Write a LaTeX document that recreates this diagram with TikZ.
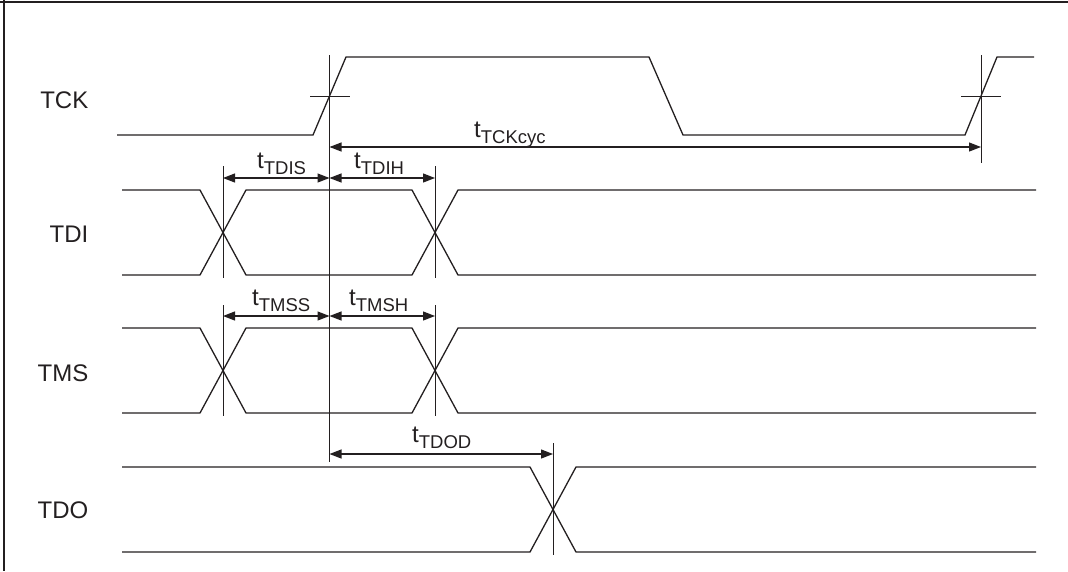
\documentclass[tikz,border=0pt]{standalone}
\usepackage{fontspec}
\setmainfont{Liberation Sans}
\usetikzlibrary{arrows.meta}
\definecolor{ink}{RGB}{35,31,32}
\newcommand{\tlab}[1]{{\fontsize{24}{26}\selectfont t}\raisebox{-6pt}{\fontsize{18.5}{20}\selectfont #1}}
\begin{document}
\begin{tikzpicture}[x=1pt,y=-1pt,
  sig/.style={draw=ink,line width=1.3pt,line join=miter},
  refline/.style={draw=ink,line width=0.9pt},
  dim/.style={draw=ink,line width=1.2pt,{Triangle[length=12pt,width=9pt]}-{Triangle[length=12pt,width=9pt]}},
  siglab/.style={anchor=base east,inner sep=0pt,text=ink,font=\fontsize{24}{26}\selectfont},
  tl/.style={anchor=base west,inner sep=0pt,text=ink}]
\useasboundingbox (0,0) rectangle (1068,571);
% frame (top and left)
\draw[ink,line width=2pt] (0,1.5) -- (1068,1.5);
\draw[ink,line width=2pt] (4,0) -- (4,571);

% signal names
\node[siglab] (nTCK) at (88.5,108) {TCK};
\node[siglab] (nTDI) at (88.5,242) {TDI};
\node[siglab] (nTMS) at (88.5,381) {TMS};
\node[siglab] (nTDO) at (88.5,518) {TDO};

% TCK
\draw[sig] (117,135) -- (313,135) -- (346,57) -- (649,57) -- (683,135) -- (965,135) -- (997,57) -- (1034,57);
\draw[refline] (310,96) -- (350,96);
\draw[refline] (961,96) -- (1001,96);
\coordinate (r1t) at (329.5,55);
\coordinate (r1b) at (329.5,462);
\coordinate (r2t) at (981,55);
\coordinate (r2b) at (981,163);
\draw[refline] (r1t) -- (r1b);
\draw[refline] (r2t) -- (r2b);
\coordinate (cycA) at (329.5,147);
\coordinate (cycB) at (981,147);
\draw[dim] (cycA) -- (cycB);
\node[tl] (lcyc) at (474,137) {\tlab{TCKcyc}};

% TDI
\draw[sig] (122,190) -- (200,190) -- (246,275) -- (412,275) -- (458,190) -- (1036,190);
\draw[sig] (122,275) -- (200,275) -- (246,190) -- (412,190) -- (458,275) -- (1036,275);
\coordinate (di1t) at (223,166);
\coordinate (di1b) at (223,278);
\coordinate (di2t) at (435,166);
\coordinate (di2b) at (435,278);
\draw[refline] (di1t) -- (di1b);
\draw[refline] (di2t) -- (di2b);
\coordinate (diA) at (223,178);
\coordinate (diM) at (329.5,178);
\coordinate (diB) at (435,178);
\draw[dim] (diA) -- (diM);
\draw[dim] (diM) -- (diB);
\node[tl] (ltdis) at (257,168) {\tlab{TDIS}};
\node[tl] (ltdih) at (354,168) {\tlab{TDIH}};

% TMS
\draw[sig] (122,328) -- (200,328) -- (246,413) -- (412,413) -- (458,328) -- (1036,328);
\draw[sig] (122,413) -- (200,413) -- (246,328) -- (412,328) -- (458,413) -- (1036,413);
\coordinate (ms1t) at (223,305);
\coordinate (ms1b) at (223,416);
\coordinate (ms2t) at (435,305);
\coordinate (ms2b) at (435,416);
\draw[refline] (ms1t) -- (ms1b);
\draw[refline] (ms2t) -- (ms2b);
\coordinate (msA) at (223,316);
\coordinate (msM) at (329.5,316);
\coordinate (msB) at (435,316);
\draw[dim] (msA) -- (msM);
\draw[dim] (msM) -- (msB);
\node[tl] (ltmss) at (252,305) {\tlab{TMSS}};
\node[tl] (ltmsh) at (349,305) {\tlab{TMSH}};

% TDO
\draw[sig] (122,467) -- (530,467) -- (576,552) -- (1036,552);
\draw[sig] (122,552) -- (530,552) -- (576,467) -- (1036,467);
\coordinate (dot) at (553,443);
\coordinate (dob) at (553,555);
\draw[refline] (dot) -- (dob);
\coordinate (doA) at (329.5,454);
\coordinate (doB) at (553,454);
\draw[dim] (doA) -- (doB);
\node[tl] (ltdod) at (412,442) {\tlab{TDOD}};
\end{tikzpicture}
\end{document}
